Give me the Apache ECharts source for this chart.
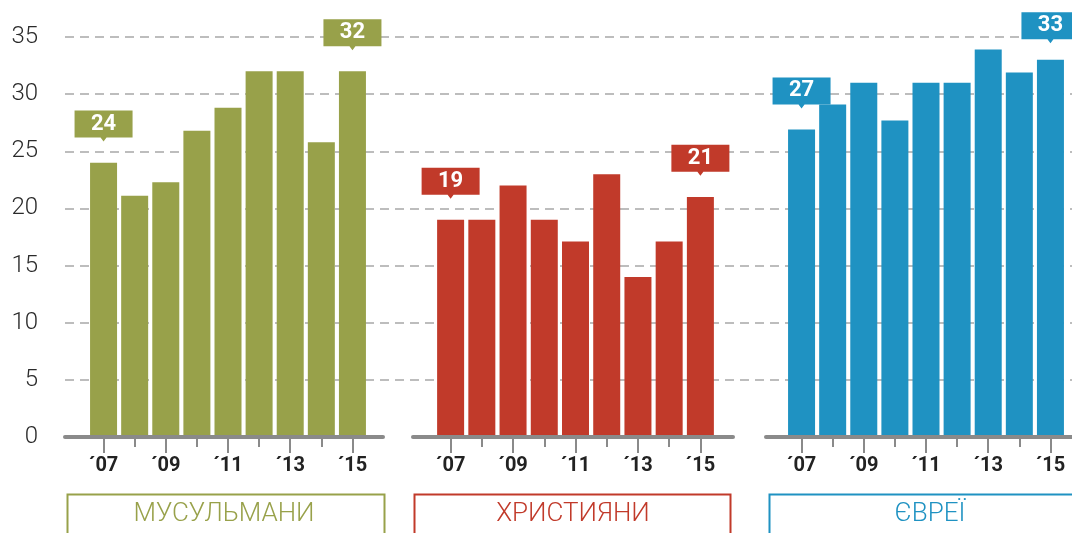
<!DOCTYPE html>
<html lang="uk">
<head>
    <meta charset="UTF-8">
    <title>Мусульмани, християни, євреї</title>
    <script src="https://cdn.jsdelivr.net/npm/echarts@6.0.0/dist/echarts.min.js"></script>
    <style>
        body { margin: 0; background: #fff; }
        #chart { width: 1072px; height: 533px; }
    </style>
</head>
<body>
    <div id="chart"></div>
    <script>
        // values, 2007..2015
        var years = ['2007', '2008', '2009', '2010', '2011', '2012', '2013', '2014', '2015'];
        var muslims = [24, 21.1, 22.3, 26.8, 28.8, 32, 32, 25.8, 32];
        var christians = [19, 19, 22, 19, 17.1, 23, 14, 17.1, 21];
        var jews = [26.9, 29.1, 31, 27.7, 31, 31, 33.9, 31.9, 33];
        var groupNames = ['МУСУЛЬМАНИ', 'ХРИСТИЯНИ', 'ЄВРЕЇ'];
        var yMin = 0, yMax = 35, yStep = 5;

        var groups = [muslims, christians, jews];
        var colors = ['#98a14a', '#c13a2a', '#1f92c2'];
        var layout = [
            {barLeft: 88, barWidth: 280, lineLeft: 65, lineWidth: 318, boxLeft: 65, boxWidth: 317},
            {barLeft: 435, barWidth: 281, lineLeft: 413, lineWidth: 320, boxLeft: 412, boxWidth: 316},
            {barLeft: 786, barWidth: 280, lineLeft: 766, lineWidth: 330, boxLeft: 767, boxWidth: 330}
        ];
        var TOP = 37, H = 400;
        var callout = 'path://M0,0 H58 V27 H32 L29,31 L26,27 H0 Z';

        var chart = echarts.init(document.getElementById('chart'));

        var grid = [{left: 65, right: 0, top: TOP, height: H}];
        var xAxis = [{gridIndex: 0, type: 'value', show: false}];
        var yAxis = [{
            gridIndex: 0, type: 'value', min: yMin, max: yMax, interval: yStep,
            axisLine: {show: false}, axisTick: {show: false},
            axisLabel: {margin: 27, fontSize: 24, color: '#2a2a2a', fontFamily: 'Roboto', fontWeight: 300},
            splitLine: {show: true, showMinLine: false, lineStyle: {color: '#bdbdbd', width: 2, type: [9, 6]}}
        }];
        var series = [];
        var graphic = [];

        groups.forEach(function (values, i) {
            var L = layout[i];
            var g = grid.length;
            // bars + long ticks, short ticks, axis line
            grid.push({left: L.barLeft, width: L.barWidth, top: TOP, height: H});
            grid.push({left: L.barLeft, width: L.barWidth, top: TOP, height: H});
            grid.push({left: L.lineLeft, width: L.lineWidth, top: TOP, height: H});

            xAxis.push({
                gridIndex: g, type: 'category', data: years,
                axisLine: {show: false},
                axisTick: {show: true, alignWithLabel: true, interval: 1, length: 16, lineStyle: {color: '#8a8a8a', width: 2}},
                axisLabel: {
                    interval: 1, margin: 19, fontFamily: 'Roboto', fontWeight: 'bold', fontSize: 20, color: '#222',
                    formatter: function (v) { return '´' + v.slice(2); }
                },
                splitLine: {show: false}
            });
            xAxis.push({
                gridIndex: g + 1, type: 'category', data: years,
                axisLine: {show: false},
                axisTick: {show: true, alignWithLabel: true, interval: 0, length: 10, lineStyle: {color: '#8a8a8a', width: 2}},
                axisLabel: {show: false},
                splitLine: {show: false}
            });
            xAxis.push({
                gridIndex: g + 2, type: 'value', z: 5,
                axisLine: {show: true, onZero: false, lineStyle: {color: '#8a8a8a', width: 4, cap: 'round'}},
                axisTick: {show: false}, axisLabel: {show: false}, splitLine: {show: false}
            });
            [g, g + 1, g + 2].forEach(function (k) {
                yAxis.push({gridIndex: k, type: 'value', min: yMin, max: yMax, show: false});
            });

            series.push({
                type: 'bar', xAxisIndex: g, yAxisIndex: g,
                data: values, barWidth: 27,
                itemStyle: {color: colors[i]},
                markPoint: {
                    symbol: callout, symbolSize: [58, 31], symbolOffset: [0, -11.5],
                    itemStyle: {color: colors[i]},
                    label: {
                        show: true, position: 'inside', offset: [0, -2],
                        color: '#fff', fontSize: 22, fontWeight: 'bold', fontFamily: 'Roboto',
                        formatter: function (p) { return Math.round(p.value); }
                    },
                    data: [0, values.length - 1].map(function (k) {
                        return {coord: [years[k], Math.min(values[k] + 2.2, 34.8)], value: values[k]};
                    })
                }
            });

            graphic.push({
                type: 'rect', left: L.boxLeft, top: 492,
                shape: {width: L.boxWidth, height: 60},
                style: {fill: 'none', stroke: colors[i], lineWidth: 2}
            });
            graphic.push({
                type: 'text', x: L.lineLeft + (i === 2 ? 164 : L.lineWidth / 2), y: 514,
                style: {
                    text: groupNames[i], fill: colors[i], align: 'center', verticalAlign: 'middle',
                    fontSize: 26, fontFamily: 'Roboto', fontWeight: 300
                }
            });
        });

        chart.setOption({
            animation: false,
            grid: grid,
            xAxis: xAxis,
            yAxis: yAxis,
            series: series,
            graphic: graphic
        });
    </script>
</body>
</html>
